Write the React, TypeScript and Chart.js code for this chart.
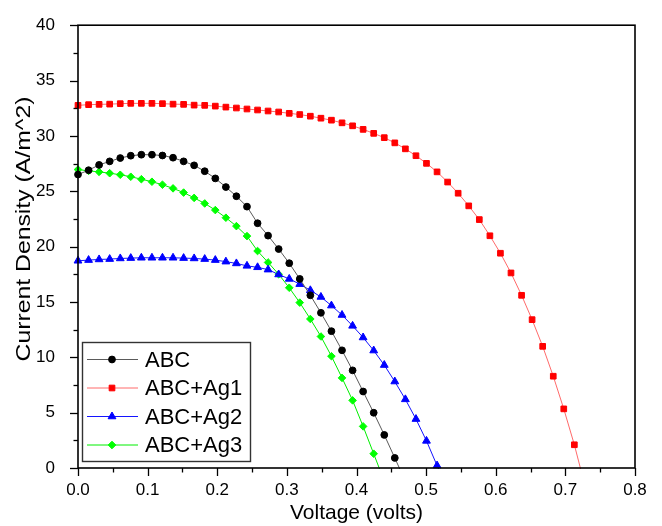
import React, { useEffect, useRef } from 'react';
import { Chart, registerables } from 'chart.js';

Chart.register(...registerables);

// Voltage (V) grid shared by all series
const voltage = [
  0, 0.0152, 0.0303, 0.0455, 0.0607, 0.0758, 0.0910, 0.1062, 0.1213, 0.1365,
  0.1517, 0.1668, 0.1820, 0.1972, 0.2124, 0.2275, 0.2427, 0.2579, 0.2730, 0.2882,
  0.3034, 0.3185, 0.3337, 0.3489, 0.3640, 0.3792, 0.3944, 0.4095, 0.4247, 0.4399,
  0.4550, 0.4702, 0.4854, 0.5005, 0.5157, 0.5309, 0.5460, 0.5612, 0.5764, 0.5916,
  0.6067, 0.6219, 0.6371, 0.6522, 0.6674, 0.6826, 0.6977, 0.7129, 0.7281,
];

// Current density (A/m^2)
const abc = [
  26.51, 26.90, 27.38, 27.70, 28.00, 28.21, 28.30, 28.30, 28.23, 28.03,
  27.70, 27.34, 26.81, 26.16, 25.38, 24.55, 23.61, 22.11, 20.99, 19.78,
  18.50, 17.08, 15.60, 14.02, 12.36, 10.63, 8.82, 6.91, 4.99, 2.99,
  0.91, -1.2,
];
const abcAg1 = [
  32.76, 32.82, 32.85, 32.87, 32.91, 32.94, 32.94, 32.94, 32.91, 32.87,
  32.85, 32.78, 32.76, 32.69, 32.60, 32.52, 32.43, 32.34, 32.25, 32.16,
  32.04, 31.93, 31.78, 31.60, 31.42, 31.18, 30.91, 30.59, 30.23, 29.84,
  29.37, 28.83, 28.21, 27.52, 26.75, 25.83, 24.82, 23.68, 22.44, 20.98,
  19.40, 17.62, 15.60, 13.40, 10.99, 8.29, 5.34, 2.10, -1.6,
];
const abcAg2 = [
  18.72, 18.78, 18.84, 18.87, 18.93, 18.96, 18.99, 18.99, 18.99, 18.99,
  18.96, 18.93, 18.87, 18.78, 18.64, 18.48, 18.26, 18.13, 17.92, 17.48,
  17.08, 16.61, 16.05, 15.45, 14.67, 13.82, 12.84, 11.79, 10.61, 9.30,
  7.81, 6.20, 4.42, 2.45, 0.22, -1.9,
];
const abcAg3 = [
  26.96, 26.84, 26.75, 26.63, 26.49, 26.31, 26.09, 25.86, 25.59, 25.26,
  24.88, 24.40, 23.90, 23.30, 22.61, 21.85, 20.95, 19.60, 18.57, 17.50,
  16.28, 14.94, 13.46, 11.88, 10.10, 8.14, 6.11, 3.76, 1.29, -1.2,
];

const seriesNames = ['ABC', 'ABC+Ag1', 'ABC+Ag2', 'ABC+Ag3'];
const xTickValues = [0, 0.1, 0.2, 0.3, 0.4, 0.5, 0.6, 0.7, 0.8];
const yTickValues = [0, 5, 10, 15, 20, 25, 30, 35, 40];
const xTitle = 'Voltage (volts)';
const yTitle = 'Current Density (A/m^2)';

const FONT = "Arial, 'Liberation Sans', sans-serif";

const styles = [
  { line: '#5a5a5a', fill: '#000000', point: 'circle', radius: 3.4 },
  { line: '#ff6a6a', fill: '#ff0000', point: 'rect', radius: 4 },
  { line: '#1414ff', fill: '#0000ff', point: 'triangle', radius: 4.5 },
  { line: '#00ee00', fill: '#00ff00', point: 'rectRot', radius: 3.8 },
];

const seriesValues = [abc, abcAg1, abcAg2, abcAg3];

const framePlugin = {
  id: 'frameTicks',
  afterDraw(chart: any) {
    const ctx = chart.ctx;
    const { left, right, top, bottom } = chart.chartArea;
    const xs = chart.scales.x;
    const ys = chart.scales.y;
    ctx.save();
    ctx.strokeStyle = '#000';
    ctx.lineWidth = 1.3;
    for (let i = 0; i < xTickValues.length; i++) {
      const px = Math.round(xs.getPixelForValue(xTickValues[i])) + 0.5;
      ctx.beginPath();
      ctx.moveTo(px, bottom);
      ctx.lineTo(px, bottom + 8);
      ctx.stroke();
      if (i < xTickValues.length - 1) {
        const mx = Math.round(xs.getPixelForValue((xTickValues[i] + xTickValues[i + 1]) / 2)) + 0.5;
        ctx.beginPath();
        ctx.moveTo(mx, bottom);
        ctx.lineTo(mx, bottom + 4.5);
        ctx.stroke();
      }
    }
    for (let i = 0; i < yTickValues.length; i++) {
      const py = Math.round(ys.getPixelForValue(yTickValues[i])) + 0.5;
      ctx.beginPath();
      ctx.moveTo(left, py);
      ctx.lineTo(left - 8, py);
      ctx.stroke();
      if (i < yTickValues.length - 1) {
        const my = Math.round(ys.getPixelForValue((yTickValues[i] + yTickValues[i + 1]) / 2)) + 0.5;
        ctx.beginPath();
        ctx.moveTo(left, my);
        ctx.lineTo(left - 4.5, my);
        ctx.stroke();
      }
    }
    ctx.lineWidth = 1.6;
    ctx.strokeRect(left, top, right - left, bottom - top);

    ctx.save();
    ctx.translate(24, 229);
    ctx.rotate(-Math.PI / 2);
    ctx.scale(1.18, 1);
    ctx.fillStyle = '#000';
    ctx.font = `21px ${FONT}`;
    ctx.textAlign = 'center';
    ctx.textBaseline = 'middle';
    ctx.fillText(yTitle, 0, 0);
    ctx.restore();

    const bx = 82.5, by = 342.5, bw = 168, bh = 119;
    ctx.fillStyle = '#fff';
    ctx.fillRect(bx, by, bw, bh);
    ctx.strokeStyle = '#333';
    ctx.lineWidth = 1.4;
    ctx.strokeRect(bx, by, bw, bh);
    const rows = [359.5, 388, 416.5, 445];
    seriesNames.forEach((name, i) => {
      const st = styles[i];
      const y = rows[i];
      ctx.strokeStyle = st.line;
      ctx.lineWidth = 1;
      ctx.beginPath();
      ctx.moveTo(87, y);
      ctx.lineTo(138, y);
      ctx.stroke();
      ctx.fillStyle = st.fill;
      ctx.strokeStyle = st.fill;
      ctx.beginPath();
      const cx = 112;
      const r = st.radius;
      if (st.point === 'circle') {
        ctx.arc(cx, y, r, 0, Math.PI * 2);
      } else if (st.point === 'rect') {
        const s = r * Math.SQRT1_2;
        ctx.rect(cx - s, y - s, 2 * s, 2 * s);
      } else if (st.point === 'triangle') {
        ctx.moveTo(cx, y - r);
        ctx.lineTo(cx + 0.866 * r, y + 0.5 * r);
        ctx.lineTo(cx - 0.866 * r, y + 0.5 * r);
        ctx.closePath();
      } else {
        ctx.moveTo(cx - r, y);
        ctx.lineTo(cx, y - r);
        ctx.lineTo(cx + r, y);
        ctx.lineTo(cx, y + r);
        ctx.closePath();
      }
      ctx.fill();
      ctx.stroke();
      ctx.fillStyle = '#000';
      ctx.font = `22px ${FONT}`;
      ctx.textAlign = 'left';
      ctx.textBaseline = 'middle';
      ctx.fillText(name, 145, y + 1);
    });
    ctx.restore();
  },
};

export default function App() {
  const canvasRef = useRef<HTMLCanvasElement | null>(null);

  useEffect(() => {
    document.body.style.margin = '0';
    const canvas = canvasRef.current;
    if (!canvas) return;
    const datasets = seriesNames.map((name, i) => {
      const st = styles[i];
      return {
        label: name,
        data: seriesValues[i].map((v, k) => ({ x: voltage[k], y: v })),
        borderColor: st.line,
        borderWidth: 1,
        backgroundColor: st.fill,
        pointStyle: st.point,
        pointRadius: st.radius,
        pointBackgroundColor: st.fill,
        pointBorderColor: st.fill,
        pointBorderWidth: 1,
        tension: 0,
        fill: false,
        clip: { left: 10, top: 0, right: 0, bottom: 1 },
      };
    });
    const chart = new Chart(canvas, {
      type: 'line',
      data: { datasets },
      plugins: [framePlugin],
      options: {
        animation: false,
        responsive: false,
        devicePixelRatio: 1,
        layout: { padding: { top: 20, right: 27, left: 0, bottom: 0 } },
        plugins: { legend: { display: false }, tooltip: { enabled: false } },
        scales: {
          x: {
            type: 'linear',
            min: 0,
            max: 0.8,
            grid: { display: false },
            border: { display: false },
            afterFit: (s: any) => { s.height = 58; },
            afterBuildTicks: (s: any) => { s.ticks = xTickValues.map((v) => ({ value: v })); },
            ticks: {
              padding: 4,
              color: '#000',
              font: { family: FONT, size: 17 },
              callback: (v: any) => Number(v).toFixed(1),
            },
            title: {
              display: true,
              text: xTitle,
              color: '#000',
              font: { family: FONT, size: 21 },
              padding: { top: 0, bottom: 0 },
            },
          },
          y: {
            type: 'linear',
            min: 0,
            max: 40,
            grid: { display: false },
            border: { display: false },
            afterFit: (s: any) => { s.width = 78; },
            afterBuildTicks: (s: any) => { s.ticks = yTickValues.map((v) => ({ value: v })); },
            ticks: {
              padding: 15,
              color: '#000',
              font: { family: FONT, size: 17 },
              callback: (v: any) => String(v),
            },
          },
        },
      },
    });
    return () => chart.destroy();
  }, []);

  return (
    <div style={{ width: 662, height: 526, background: '#fff' }}>
      <canvas ref={canvasRef} width={662} height={526} />
    </div>
  );
}
